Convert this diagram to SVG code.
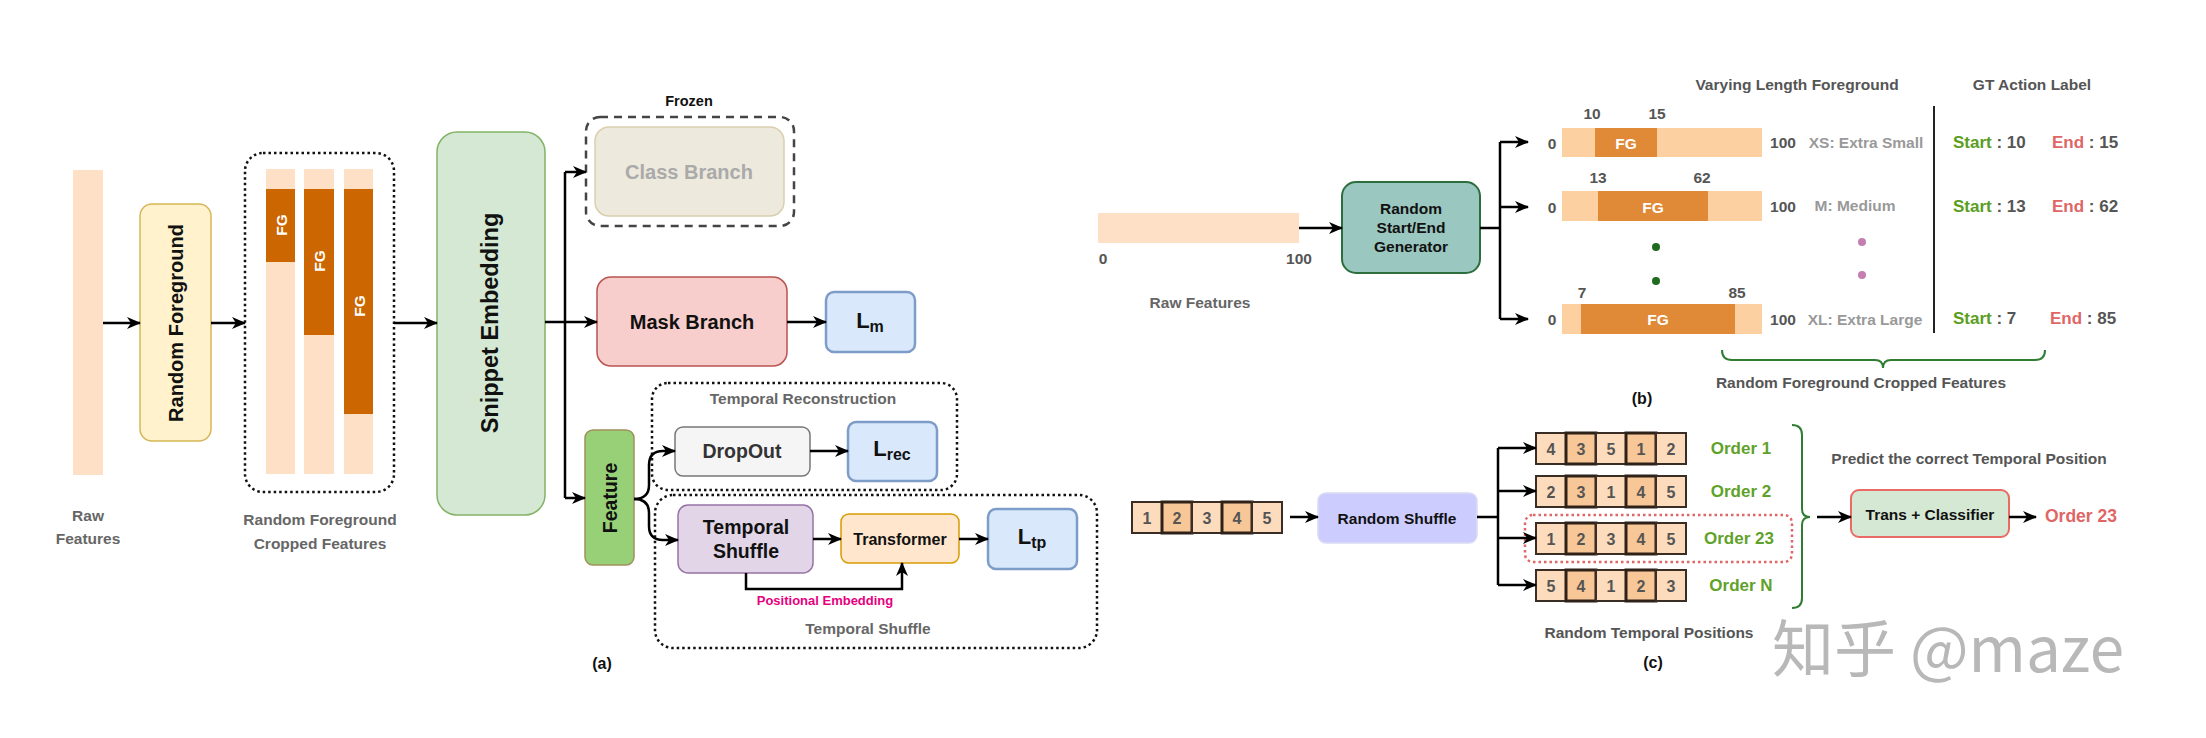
<svg xmlns="http://www.w3.org/2000/svg" width="2206" height="738" viewBox="0 0 2206 738">
<style>
text{font-family:"Liberation Sans",Arial,sans-serif;font-weight:bold;dominant-baseline:central;text-anchor:middle}
.lbl{font-size:15.5px;fill:#666}
.dk{font-size:15.5px;fill:#555}
.b{font-size:20px;fill:#111}
.w{font-size:15.5px;fill:#fff}
.ln{fill:none;stroke:#000;stroke-width:2.5}
.arr{fill:none;stroke:#000;stroke-width:2.5;marker-end:url(#ah)}
.dot{fill:none;stroke:#111;stroke-width:2.5;stroke-dasharray:2.5 3}
.loss{fill:#dae8fc;stroke:#7e9cc8;stroke-width:2.5}
.lt{fill:#fde0c5}
.fga{fill:#cc6600}
.ltb{fill:#fdd0a2}
.fgb{fill:#e08a38}
.c1{fill:#fcdcbc;stroke:#3a2e24;stroke-width:2}
.c2{fill:#f8c797;stroke:#2e2118;stroke-width:3}
.cn{font-size:16px;fill:#555}
.ord{font-size:17px;fill:#5fa22a}
.st{font-size:17px;fill:#5a9e1e}
.en{font-size:17px;fill:#e06666}
.sep{font-size:17px;fill:#555}
</style>
<defs>
<marker id="ah" viewBox="0 0 14 12" refX="13" refY="6" markerWidth="14" markerHeight="12" markerUnits="userSpaceOnUse" orient="auto">
<path d="M0,0 L14,6 L0,12 L4,6 z" fill="#000"/>
</marker>
</defs>
<rect width="2206" height="738" fill="#fff"/>

<!-- ===== (a) ===== -->
<g id="raw-features-a">
<rect class="lt" x="73" y="170" width="30" height="305"/>
<text class="lbl" x="88" y="515">Raw</text>
<text class="lbl" x="88" y="538">Features</text>
</g>
<g id="random-foreground">
<rect x="140" y="204" width="71" height="237" rx="12" fill="#fff2cc" stroke="#d6b656" stroke-width="1.5"/>
<text class="b" transform="translate(176,323) rotate(-90)">Random Foreground</text>
</g>
<g id="cropped-features">
<rect class="dot" x="245" y="153" width="149" height="339" rx="18"/>
<rect class="lt" x="266" y="169" width="29" height="305"/>
<rect class="fga" x="266" y="189" width="29" height="73"/>
<rect class="lt" x="304" y="169" width="30" height="305"/>
<rect class="fga" x="304" y="189" width="30" height="146"/>
<rect class="lt" x="344" y="169" width="29" height="305"/>
<rect class="fga" x="344" y="189" width="29" height="225"/>
<text class="w" transform="translate(281,225) rotate(-90)">FG</text>
<text class="w" transform="translate(319,261) rotate(-90)">FG</text>
<text class="w" transform="translate(359,306) rotate(-90)">FG</text>
<text class="lbl" x="320" y="519">Random Foreground</text>
<text class="lbl" x="320" y="543">Cropped Features</text>
</g>
<g id="snippet-embedding">
<rect x="437" y="132" width="108" height="383" rx="20" fill="#d5e8d4" stroke="#82b366" stroke-width="1.5"/>
<text style="font-size:23.5px;fill:#111" transform="translate(490,323) rotate(-90)">Snippet Embedding</text>
</g>
<g id="class-branch">
<text style="font-size:14.5px;fill:#111" x="689" y="101">Frozen</text>
<rect x="586" y="117" width="208" height="109" rx="14" fill="none" stroke="#444" stroke-width="2.5" stroke-dasharray="8 6"/>
<rect x="595" y="127" width="189" height="89" rx="14" fill="#ede9dd" stroke="#d9cfae" stroke-width="1.5"/>
<text class="b" style="fill:#aaa" x="689" y="172">Class Branch</text>
</g>
<g id="mask-branch">
<rect x="597" y="277" width="190" height="89" rx="14" fill="#f8cecc" stroke="#b85450" stroke-width="1.5"/>
<text class="b" x="692" y="322">Mask Branch</text>
</g>
<g id="loss-m">
<rect class="loss" x="826" y="292" width="89" height="60" rx="8"/>
<text style="font-size:22px;fill:#111" x="870" y="320">L<tspan style="font-size:16px" dy="6">m</tspan></text>
</g>
<g id="feature">
<rect x="585" y="430" width="49" height="135" rx="8" fill="#97d077" stroke="#a0915c" stroke-width="1.5"/>
<text style="font-size:19.5px;fill:#111" transform="translate(610,498) rotate(-90)">Feature</text>
</g>
<g id="temporal-reconstruction">
<rect class="dot" x="652" y="383" width="305" height="107" rx="16"/>
<text class="lbl" x="803" y="398">Temporal Reconstruction</text>
</g>
<g id="dropout">
<rect x="675" y="427" width="135" height="49" rx="8" fill="#f5f5f5" stroke="#777" stroke-width="1.5"/>
<text style="font-size:19.5px;fill:#333" x="742" y="451">DropOut</text>
</g>
<g id="loss-rec">
<rect class="loss" x="848" y="422" width="89" height="59" rx="8"/>
<text style="font-size:22px;fill:#111" x="892" y="448">L<tspan style="font-size:16px" dy="6">rec</tspan></text>
</g>
<g id="temporal-shuffle-group">
<rect class="dot" x="655" y="495" width="442" height="153" rx="18"/>
<text class="lbl" x="868" y="628">Temporal Shuffle</text>
</g>
<g id="temporal-shuffle">
<rect x="678" y="505" width="135" height="68" rx="10" fill="#e1d5e7" stroke="#9673a6" stroke-width="1.5"/>
<text style="font-size:19.5px;fill:#111" x="746" y="527">Temporal</text>
<text style="font-size:19.5px;fill:#111" x="746" y="551">Shuffle</text>
</g>
<g id="transformer">
<rect x="841" y="514" width="118" height="49" rx="8" fill="#ffe6cc" stroke="#d79b00" stroke-width="1.5"/>
<text style="font-size:16px;fill:#111" x="900" y="539">Transformer</text>
</g>
<g id="loss-tp">
<rect class="loss" x="988" y="509" width="89" height="60" rx="8"/>
<text style="font-size:22px;fill:#111" x="1032" y="536">L<tspan style="font-size:16px" dy="6">tp</tspan></text>
</g>
<text style="font-size:13px;fill:#e6007e" x="825" y="600">Positional Embedding</text>
<text style="font-size:16px;fill:#111" x="602" y="663">(a)</text>

<!-- ===== (b) ===== -->
<g id="raw-features-b">
<rect class="lt" x="1098" y="213" width="201" height="30"/>
<text class="dk" x="1103" y="258">0</text>
<text class="dk" x="1299" y="258">100</text>
<text class="lbl" x="1200" y="302">Raw Features</text>
</g>
<g id="start-end-generator">
<rect x="1342" y="182" width="138" height="91" rx="14" fill="#9ac7bf" stroke="#2d6e3e" stroke-width="2"/>
<text style="font-size:15.5px;fill:#111" x="1411" y="208">Random</text>
<text style="font-size:15.5px;fill:#111" x="1411" y="227">Start/End</text>
<text style="font-size:15.5px;fill:#111" x="1411" y="246">Generator</text>
</g>
<g id="bar-xs">
<text class="dk" x="1552" y="143">0</text>
<rect class="ltb" x="1562" y="128" width="200" height="29"/>
<rect class="fgb" x="1595" y="128" width="62" height="29"/>
<text class="w" x="1626" y="143">FG</text>
<text class="dk" x="1592" y="113">10</text>
<text class="dk" x="1657" y="113">15</text>
<text class="dk" x="1783" y="142">100</text>
<text style="font-size:15.5px;fill:#999" x="1866" y="142">XS: Extra Small</text>
</g>
<g id="bar-m">
<text class="dk" x="1552" y="207">0</text>
<rect class="ltb" x="1562" y="191" width="200" height="30"/>
<rect class="fgb" x="1598" y="191" width="110" height="30"/>
<text class="w" x="1653" y="207">FG</text>
<text class="dk" x="1598" y="177">13</text>
<text class="dk" x="1702" y="177">62</text>
<text class="dk" x="1783" y="206">100</text>
<text style="font-size:15.5px;fill:#999" x="1855" y="205">M: Medium</text>
</g>
<g id="bar-xl">
<text class="dk" x="1552" y="319">0</text>
<rect class="ltb" x="1562" y="304" width="200" height="30"/>
<rect class="fgb" x="1581" y="304" width="154" height="30"/>
<text class="w" x="1658" y="319">FG</text>
<text class="dk" x="1582" y="292">7</text>
<text class="dk" x="1737" y="292">85</text>
<text class="dk" x="1783" y="319">100</text>
<text style="font-size:15.5px;fill:#999" x="1865" y="319">XL: Extra Large</text>
</g>
<g id="ellipsis-b">
<circle cx="1656" cy="247" r="4" fill="#1e6b1e"/>
<circle cx="1656" cy="281" r="4" fill="#1e6b1e"/>
<circle cx="1862" cy="242" r="4" fill="#c47fb0"/>
<circle cx="1862" cy="275" r="4" fill="#c47fb0"/>
</g>
<text class="dk" x="1797" y="84">Varying Length Foreground</text>
<text class="dk" x="2032" y="84">GT Action Label</text>
<line x1="1934" y1="106" x2="1934" y2="333" stroke="#222" stroke-width="2"/>
<g id="gt-labels" style="text-anchor:start">
<text style="text-anchor:start" x="1953" y="142"><tspan class="st">Start</tspan><tspan class="sep"> : 10</tspan></text>
<text style="text-anchor:start" x="2052" y="142"><tspan class="en">End</tspan><tspan class="sep"> : 15</tspan></text>
<text style="text-anchor:start" x="1953" y="206"><tspan class="st">Start</tspan><tspan class="sep"> : 13</tspan></text>
<text style="text-anchor:start" x="2052" y="206"><tspan class="en">End</tspan><tspan class="sep"> : 62</tspan></text>
<text style="text-anchor:start" x="1953" y="318"><tspan class="st">Start</tspan><tspan class="sep"> : 7</tspan></text>
<text style="text-anchor:start" x="2050" y="318"><tspan class="en">End</tspan><tspan class="sep"> : 85</tspan></text>
</g>
<path d="M1722 350 Q1722 360 1732 360 H1875 Q1883 360 1883 368 Q1883 360 1891 360 H2035 Q2045 360 2045 350" fill="none" stroke="#2e7d32" stroke-width="2"/>
<text class="dk" x="1861" y="382">Random Foreground Cropped Features</text>
<text style="font-size:16px;fill:#111" x="1642" y="398">(b)</text>

<!-- ===== (c) ===== -->
<g id="input-sequence">
<rect class="c1" x="1132" y="502" width="30" height="31"/>
<rect class="c2" x="1162" y="502" width="30" height="31"/>
<rect class="c1" x="1192" y="502" width="30" height="31"/>
<rect class="c2" x="1222" y="502" width="30" height="31"/>
<rect class="c1" x="1252" y="502" width="30" height="31"/>
<text class="cn" x="1147" y="518">1</text><text class="cn" x="1177" y="518">2</text><text class="cn" x="1207" y="518">3</text><text class="cn" x="1237" y="518">4</text><text class="cn" x="1267" y="518">5</text>
</g>
<g id="random-shuffle">
<rect x="1318" y="493" width="159" height="50" rx="8" fill="#ccccff" stroke="#dadaf5" stroke-width="1.5"/>
<text style="font-size:15.5px;fill:#111" x="1397" y="518">Random Shuffle</text>
</g>
<g id="order-1">
<rect class="c1" x="1536" y="433" width="30" height="31"/><rect class="c2" x="1566" y="433" width="30" height="31"/><rect class="c1" x="1596" y="433" width="30" height="31"/><rect class="c2" x="1626" y="433" width="30" height="31"/><rect class="c1" x="1656" y="433" width="30" height="31"/>
<text class="cn" x="1551" y="449">4</text><text class="cn" x="1581" y="449">3</text><text class="cn" x="1611" y="449">5</text><text class="cn" x="1641" y="449">1</text><text class="cn" x="1671" y="449">2</text>
<text class="ord" x="1741" y="448">Order 1</text>
</g>
<g id="order-2">
<rect class="c1" x="1536" y="476" width="30" height="31"/><rect class="c2" x="1566" y="476" width="30" height="31"/><rect class="c1" x="1596" y="476" width="30" height="31"/><rect class="c2" x="1626" y="476" width="30" height="31"/><rect class="c1" x="1656" y="476" width="30" height="31"/>
<text class="cn" x="1551" y="492">2</text><text class="cn" x="1581" y="492">3</text><text class="cn" x="1611" y="492">1</text><text class="cn" x="1641" y="492">4</text><text class="cn" x="1671" y="492">5</text>
<text class="ord" x="1741" y="491">Order 2</text>
</g>
<g id="order-23">
<rect x="1525" y="515" width="267" height="47" rx="8" fill="none" stroke="#e06666" stroke-width="2.5" stroke-dasharray="2.5 3"/>
<rect class="c1" x="1536" y="523" width="30" height="31"/><rect class="c2" x="1566" y="523" width="30" height="31"/><rect class="c1" x="1596" y="523" width="30" height="31"/><rect class="c2" x="1626" y="523" width="30" height="31"/><rect class="c1" x="1656" y="523" width="30" height="31"/>
<text class="cn" x="1551" y="539">1</text><text class="cn" x="1581" y="539">2</text><text class="cn" x="1611" y="539">3</text><text class="cn" x="1641" y="539">4</text><text class="cn" x="1671" y="539">5</text>
<text class="ord" x="1739" y="538">Order 23</text>
</g>
<g id="order-n">
<rect class="c1" x="1536" y="570" width="30" height="31"/><rect class="c2" x="1566" y="570" width="30" height="31"/><rect class="c1" x="1596" y="570" width="30" height="31"/><rect class="c2" x="1626" y="570" width="30" height="31"/><rect class="c1" x="1656" y="570" width="30" height="31"/>
<text class="cn" x="1551" y="586">5</text><text class="cn" x="1581" y="586">4</text><text class="cn" x="1611" y="586">1</text><text class="cn" x="1641" y="586">2</text><text class="cn" x="1671" y="586">3</text>
<text class="ord" x="1741" y="585">Order N</text>
</g>
<path d="M1792 425 Q1802 425 1802 435 V509 Q1802 517 1810 517 Q1802 517 1802 525 V598 Q1802 608 1792 608" fill="none" stroke="#2e7d32" stroke-width="2"/>
<text class="dk" x="1969" y="458">Predict the correct Temporal Position</text>
<g id="trans-classifier">
<rect x="1851" y="490" width="158" height="47" rx="8" fill="#d5e8d4" stroke="#ea6b66" stroke-width="2"/>
<text style="font-size:15.5px;fill:#111" x="1930" y="514">Trans + Classifier</text>
</g>
<text style="font-size:17.5px;fill:#e06666" x="2081" y="516">Order 23</text>
<text class="dk" x="1649" y="632">Random Temporal Positions</text>
<text style="font-size:16px;fill:#111" x="1653" y="662">(c)</text>

<text style="font-family:'Noto Sans CJK SC','Noto Sans',sans-serif;font-weight:normal;font-size:62px;fill:#b8b8b8;text-anchor:start;dominant-baseline:auto" x="1772" y="672">知乎 @maze</text>

<!-- ===== connectors ===== -->
<g id="connectors">
<path class="arr" d="M103 323 H140"/>
<path class="arr" d="M211 323 H245"/>
<path class="arr" d="M394 323 H437"/>
<path class="ln" d="M565 172 V498"/>
<path class="arr" d="M565 172 H586"/>
<path class="arr" d="M545 322 H597"/>
<path class="arr" d="M565 498 H585"/>
<path class="arr" d="M787 322 H826"/>
<path class="arr" d="M634 499 Q649 499 649 485 V465 Q649 451 663 451 H675"/>
<path class="arr" d="M634 499 Q649 499 649 513 V526 Q649 540 663 540 H678"/>
<path class="arr" d="M810 451 H848"/>
<path class="arr" d="M813 539 H841"/>
<path class="arr" d="M959 539 H988"/>
<path class="arr" d="M746 573 V589 H902 V563"/>
<path class="arr" d="M1299 228 H1342"/>
<path class="ln" d="M1480 228 H1500 M1500 142 V319"/>
<path class="arr" d="M1500 142 H1528"/>
<path class="arr" d="M1500 207 H1528"/>
<path class="arr" d="M1500 319 H1528"/>
<path class="arr" d="M1290 517 H1318"/>
<path class="ln" d="M1477 517 H1498 M1498 448 V585"/>
<path class="arr" d="M1498 448 H1536"/>
<path class="arr" d="M1498 491 H1536"/>
<path class="arr" d="M1498 538 H1536"/>
<path class="arr" d="M1498 585 H1536"/>
<path class="arr" d="M1817 517 H1851"/>
<path class="arr" d="M2009 517 H2036"/>
</g>
</svg>
